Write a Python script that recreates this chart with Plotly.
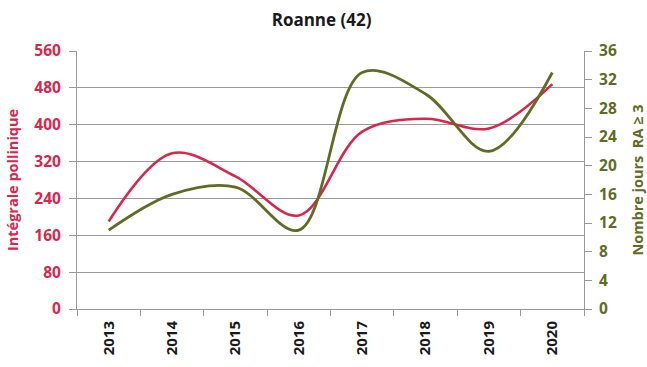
import plotly.graph_objects as go

years = ["2013", "2014", "2015", "2016", "2017", "2018", "2019", "2020"]
integrale = [190, 338, 288, 203, 385, 413, 392, 488]
jours_ra3 = [11, 16, 17, 11, 33, 30, 22, 33]

left_ticks = [0, 80, 160, 240, 320, 400, 480, 560]
right_ticks = [0, 4, 8, 12, 16, 20, 24, 28, 32, 36]

RED = "#d8264c"
OLIVE = "#616b25"
AXIS = "#9a9a9a"
FONT = "Open Sans"

fig = go.Figure()
fig.add_trace(go.Scatter(
    x=years, y=integrale, mode="lines", name="Intégrale pollinique",
    line=dict(color=RED, width=2.6, shape="spline", smoothing=1.0),
    yaxis="y",
))
fig.add_trace(go.Scatter(
    x=years, y=jours_ra3, mode="lines", name="Nombre jours RA ≥ 3",
    line=dict(color=OLIVE, width=2.8, shape="spline", smoothing=1.0),
    yaxis="y2",
))

fig.update_layout(
    width=647, height=367,
    margin=dict(l=77, r=63, t=51, b=58),
    paper_bgcolor="white", plot_bgcolor="white",
    showlegend=False,
    font=dict(family=FONT),
    title=dict(
        text="<b>Roanne (42)</b>", x=0.497, xanchor="center",
        y=0.945, yanchor="middle",
        font=dict(family=FONT, size=17, color="#1a1a1a"),
    ),
    xaxis=dict(
        type="category", tickson="boundaries", ticks="outside",
        ticklen=6, tickcolor=AXIS, showline=True, linecolor=AXIS,
        linewidth=1, showgrid=False, tickangle=-90, ticklabelstandoff=5,
        tickfont=dict(family=FONT, size=15, color="#1a1a1a", weight="bold"),
        range=[-0.5, 7.5], automargin=False,
    ),
    yaxis=dict(
        range=[0, 560], tickvals=left_ticks, ticks="outside", ticklen=7,
        tickcolor=AXIS, showline=True, linecolor=AXIS, linewidth=1,
        showgrid=True, gridcolor=AXIS, gridwidth=1, zeroline=False,
        ticklabelstandoff=5, automargin=False,
        tickfont=dict(family=FONT, size=15.5, color=RED, weight="bold"),
        title=dict(text="<b>Intégrale pollinique</b>", standoff=12,
                   font=dict(family=FONT, size=14.5, color=RED)),
    ),
    yaxis2=dict(
        range=[0, 36], tickvals=right_ticks, overlaying="y", side="right",
        ticks="outside", ticklen=7, tickcolor=AXIS, showline=True,
        linecolor=AXIS, linewidth=1, showgrid=False, zeroline=False,
        ticklabelstandoff=4, automargin=False,
        tickfont=dict(family=FONT, size=15.5, color=OLIVE, weight="bold"),
        title=dict(text="<b>Nombre jours  RA ≥ 3</b>", standoff=22,
                   font=dict(family=FONT, size=14.5, color=OLIVE)),
    ),
)

fig.write_html("out.html")
